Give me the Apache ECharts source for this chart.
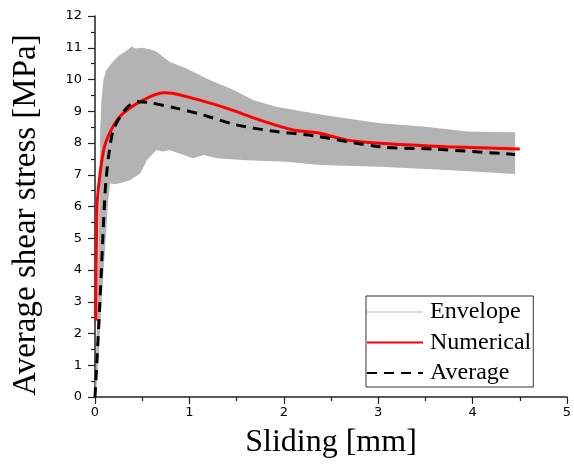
<!DOCTYPE html>
<html>
<head>
<meta charset="utf-8">
<script src="https://cdn.jsdelivr.net/npm/echarts@6/dist/echarts.min.js"></script>
<style>
html,body{margin:0;padding:0;background:#fff;}
#chart{width:574px;height:468px;}
</style>
</head>
<body>
<div id="chart"></div>
<script>
// Envelope (upper and lower bounds of experimental curves)
var upperX = [0, 0.01, 0.025, 0.04, 0.053, 0.055, 0.07, 0.09, 0.12, 0.19, 0.25, 0.33, 0.39, 0.42, 0.5, 0.58, 0.65, 0.72, 0.79, 0.97, 1.22, 1.47, 1.68, 1.92, 2.31, 2.6, 3.02, 3.51, 3.94, 4.45];
var upperY = [0, 1, 3, 5.5, 6.5, 8.4, 9.4, 10.0, 10.3, 10.56, 10.75, 10.9, 11.05, 10.98, 11.0, 10.95, 10.88, 10.72, 10.56, 10.35, 9.98, 9.67, 9.35, 9.14, 8.94, 8.8, 8.62, 8.51, 8.36, 8.34];
var lowerX = [0, 0.01, 0.042, 0.07, 0.14, 0.16, 0.2, 0.265, 0.37, 0.48, 0.55, 0.65, 0.72, 0.79, 0.94, 1.04, 1.15, 1.29, 1.61, 2.03, 2.38, 3.02, 3.73, 4.45];
var lowerY = [0, 0.05, 1.48, 3.05, 6.2, 6.73, 6.7, 6.73, 6.83, 7.05, 7.46, 7.78, 7.73, 7.78, 7.62, 7.52, 7.62, 7.52, 7.46, 7.41, 7.31, 7.25, 7.15, 7.02];

// Numerical curve
var numX = [0.008, 0.012, 0.018, 0.025, 0.05, 0.1, 0.19, 0.3, 0.51, 0.72, 0.83, 1.11, 1.4, 1.75, 2.1, 2.38, 2.67, 3.02, 3.73, 4.5];
var numY = [2.4, 4, 5.5, 6.2, 6.95, 7.88, 8.51, 8.94, 9.35, 9.58, 9.56, 9.35, 9.09, 8.72, 8.41, 8.31, 8.09, 7.99, 7.88, 7.81];

// Average curve
var avgX = [0, 0.018, 0.053, 0.1, 0.117, 0.148, 0.2, 0.34, 0.46, 0.58, 0.87, 1.15, 1.5, 1.92, 2.31, 3.02, 3.58, 4.45];
var avgY = [0, 1, 3.05, 6.1, 6.83, 7.67, 8.45, 9.12, 9.3, 9.27, 9.09, 8.88, 8.57, 8.36, 8.23, 7.88, 7.81, 7.64];

var legendNames = ['Envelope', 'Numerical', 'Average'];
var xTitle = 'Sliding [mm]';
var yTitle = 'Average shear stress [MPa]';

function pairs(xs, ys) { return xs.map(function (x, i) { return [x, ys[i]]; }); }

var envPoly = pairs(upperX, upperY).concat(pairs(lowerX, lowerY).reverse());

var chart = echarts.init(document.getElementById('chart'), null, {renderer: 'canvas'});
var axisColor = '#222';
var option = {
  animation: false,
  backgroundColor: '#fff',
  grid: {left: 95, right: 7, top: 16, bottom: 71, outerBoundsMode: 'none', containLabel: false},
  xAxis: {
    type: 'value', min: 0, max: 5, interval: 1,
    name: xTitle, nameLocation: 'middle', nameGap: 30,
    nameTextStyle: {fontFamily: 'Liberation Serif', fontSize: 32, color: '#000'},
    axisLine: {show: true, onZero: false, lineStyle: {color: axisColor, width: 1.5}},
    axisTick: {show: true, inside: false, length: 7, lineStyle: {color: axisColor, width: 1.2}},
    minorTick: {show: true, splitNumber: 2, length: 4, lineStyle: {color: axisColor, width: 1.2}},
    axisLabel: {fontFamily: 'DejaVu Sans', fontSize: 13, color: '#000', margin: 9},
    splitLine: {show: false}
  },
  yAxis: {
    type: 'value', min: 0, max: 12, interval: 1,
    name: yTitle, nameLocation: 'middle', nameGap: 52, nameRotate: 90,
    nameTextStyle: {fontFamily: 'Liberation Serif', fontSize: 33, color: '#000', padding: [0, 17, 0, 0]},
    axisLine: {show: true, onZero: false, lineStyle: {color: axisColor, width: 1.5}},
    axisTick: {show: true, inside: false, length: 7, lineStyle: {color: axisColor, width: 1.2}},
    minorTick: {show: true, splitNumber: 2, length: 4, lineStyle: {color: axisColor, width: 1.2}},
    axisLabel: {fontFamily: 'DejaVu Sans', fontSize: 13, color: '#000', margin: 13},
    splitLine: {show: false}
  },
  legend: {
    orient: 'vertical', left: 366, top: 296,
    data: legendNames,
    itemWidth: 56, itemHeight: 14, itemGap: 6.5,
    padding: [4, 2, 2, 0],
    borderColor: '#333', borderWidth: 1,
    backgroundColor: '#fff',
    itemStyle: {opacity: 0},
    textStyle: {fontFamily: 'Liberation Serif', fontSize: 24, color: '#000', lineHeight: 24, padding: [0, 0, 0, 2]}
  },
  series: [
    {
      name: 'EnvelopeFill', type: 'custom', z: 1, silent: true,
      data: [[0, 0]],
      renderItem: function (params, api) {
        var pts = envPoly.map(function (p) { return api.coord(p); });
        return {type: 'polygon', shape: {points: pts}, style: {fill: '#b3b3b3', stroke: null}};
      }
    },
    {
      name: 'Envelope', type: 'line', data: [], symbol: 'none',
      lineStyle: {color: '#dedede', width: 2}, itemStyle: {color: '#dedede'}
    },
    {
      name: 'Numerical', type: 'line', z: 3, data: pairs(numX, numY), symbol: 'none', smooth: 0.3,
      lineStyle: {color: '#ff0000', width: 3}, itemStyle: {color: '#ff0000'}
    },
    {
      name: 'Average', type: 'line', z: 4, data: pairs(avgX, avgY), symbol: 'none', smooth: 0.3,
      lineStyle: {color: '#000', width: 3, type: [10, 7]}, itemStyle: {color: '#000'}
    }
  ]
};
chart.setOption(option);
</script>
</body>
</html>
